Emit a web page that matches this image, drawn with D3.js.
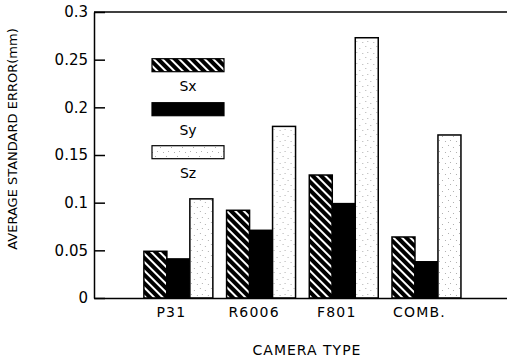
<!DOCTYPE html>
<html><head><meta charset="utf-8">
<script src="https://cdn.jsdelivr.net/npm/d3@7"></script>
<style>
body{margin:0;background:#fff;}
text{font-family:"DejaVu Sans",sans-serif;fill:#000;}
</style></head>
<body>
<svg id="c" width="507" height="358"></svg>
<script>
const categories = ["P31", "R6006", "F801", "COMB."];
const seriesNames = ["Sx", "Sy", "Sz"];
const sxValues = [0.049, 0.092, 0.129, 0.064];
const syValues = [0.041, 0.071, 0.099, 0.038];
const szValues = [0.104, 0.180, 0.273, 0.171];
const yTicks = [0, 0.05, 0.1, 0.15, 0.2, 0.25, 0.3];
const yTickLabels = ["0", "0.05", "0.1", "0.15", "0.2", "0.25", "0.3"];

const seriesValues = {Sx: sxValues, Sy: syValues, Sz: szValues};

const svg = d3.select("#c");
const defs = svg.append("defs");

// hatch pattern: black with white "\" stripes
const hp = defs.append("pattern").attr("id","hatch").attr("patternUnits","userSpaceOnUse")
  .attr("width",6).attr("height",6).attr("patternTransform","rotate(-45)");
hp.append("rect").attr("width",6).attr("height",6).attr("fill","#000");
hp.append("rect").attr("x",0).attr("y",0).attr("width",2).attr("height",6).attr("fill","#fff");

// stipple pattern (sparse light dots)
const sp = defs.append("pattern").attr("id","stipple").attr("patternUnits","userSpaceOnUse")
  .attr("width",11).attr("height",11);
sp.append("rect").attr("width",11).attr("height",11).attr("fill","#fff");
[[1,2],[6,4],[3,8],[9,9]].forEach(([px,py])=>{
  sp.append("rect").attr("x",px).attr("y",py).attr("width",1).attr("height",1).attr("fill","#b0b0b0");
});

const fills = {Sx:"url(#hatch)", Sy:"#000", Sz:"url(#stipple)"};

const mLeft = 94, mRight = 507, mTop = 12, mBottom = 298;

const y = d3.scaleLinear().domain([0, 0.3]).range([mBottom, mTop]);
const x = d3.scaleBand().domain(categories).range([mLeft, mRight])
  .paddingInner(0.166).paddingOuter(0.58).align(0.52);
const xs = d3.scaleBand().domain(seriesNames).range([0, x.bandwidth()]);

// bars
const groups = svg.append("g").selectAll("g").data(categories).join("g")
  .attr("transform", d => `translate(${x(d)},0)`);
groups.selectAll("rect").data((c,i) => seriesNames.map(s => ({s, v: seriesValues[s][i]})))
  .join("rect")
  .attr("x", d => xs(d.s))
  .attr("y", d => y(d.v))
  .attr("width", xs.bandwidth())
  .attr("height", d => mBottom - y(d.v))
  .attr("fill", d => fills[d.s])
  .attr("stroke", "#000").attr("stroke-width", 1.5);

// top frame line
svg.append("line").attr("x1", mLeft).attr("x2", mRight).attr("y1", y(0.3)).attr("y2", y(0.3))
  .attr("stroke","#000").attr("stroke-width",1.5);

// y axis
const ya = svg.append("g").attr("transform", `translate(${mLeft},0)`)
  .call(d3.axisLeft(y).tickValues(yTicks).tickFormat((d,i)=>yTickLabels[i])
    .tickSizeInner(-11).tickSizeOuter(0).tickPadding(6));
ya.selectAll("path, line").attr("stroke","#000").attr("stroke-width",1.5);
ya.selectAll("text").attr("font-size",15).attr("font-family","DejaVu Sans");

// x axis
const xa = svg.append("g").attr("transform", `translate(0,${mBottom})`)
  .call(d3.axisBottom(x).tickSize(0).tickPadding(9));
xa.select("path").attr("stroke","#000").attr("stroke-width",1.5);
xa.selectAll("text").attr("font-size",14).attr("font-family","DejaVu Sans")
  .attr("dx", -7).attr("letter-spacing", 1.2);

// axis titles
svg.append("text").attr("x", 307).attr("y", 355).attr("text-anchor","middle")
  .attr("font-size",14).attr("letter-spacing",1).text("CAMERA TYPE");
svg.append("text").attr("transform","translate(17,139) rotate(-90)").attr("text-anchor","middle")
  .attr("font-size",13).text("AVERAGE STANDARD ERROR(mm)");

// legend
const legend = svg.append("g");
const legTop = [58.7, 102.7, 145.7];
seriesNames.forEach((s, i) => {
  legend.append("rect").attr("x",152).attr("y",legTop[i]).attr("width",72).attr("height",13)
    .attr("fill", fills[s]).attr("stroke","#000").attr("stroke-width",1.2);
  legend.append("text").attr("x",188).attr("y",legTop[i]+32).attr("text-anchor","middle")
    .attr("font-size",14).text(s);
});
</script>
</body></html>
